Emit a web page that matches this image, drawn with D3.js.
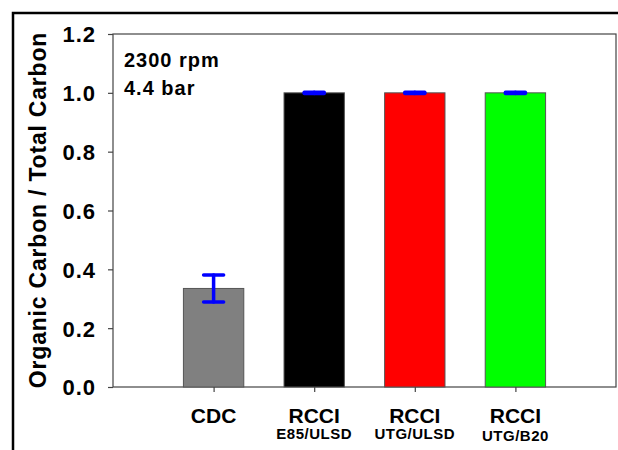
<!DOCTYPE html>
<html>
<head>
<meta charset="utf-8">
<script src="https://cdn.jsdelivr.net/npm/d3@7"></script>
<style>
  body { margin: 0; background: #fff; }
  svg { display: block; font-family: "Liberation Sans", Arial, sans-serif; font-weight: bold; }
</style>
</head>
<body>
<svg width="618" height="450"></svg>
<script>
// chart data
var categories = ["CDC", "RCCI", "RCCI", "RCCI"]
var subLabels = ["", "E85/ULSD", "UTG/ULSD", "UTG/B20"]
var values = [0.335, 1.0, 1.0, 1.0]
var errors = [0.046, 0.002, 0.002, 0.002]
var colors = ["#808080", "#000000", "#ff0000", "#00ff00"]
var yTicks = [0.0, 0.2, 0.4, 0.6, 0.8, 1.0, 1.2]

window.onload = () => {
    var svg = d3.select('svg')

    // outer frame
    svg.append('rect')
        .attr('x', 13).attr('y', 13)
        .attr('width', 618).attr('height', 450)
        .attr('fill', 'none')
        .attr('stroke', '#000')
        .attr('stroke-width', 2.5)

    var margin = { left: 113, top: 34, right: 2, bottom: 63 }
    var width = 618 - margin.left - margin.right,
        height = 450 - margin.top - margin.bottom

    var g = svg.append('g')
        .attr('transform', 'translate(' + margin.left + ',' + margin.top + ')')

    var xScale = d3.scaleLinear().domain([0, categories.length + 1]).range([0, width])
    var yScale = d3.scaleLinear().domain([0, 1.2]).range([height, 0])
    var barW = xScale(0.6) - xScale(0)

    // plot frame
    g.append('rect')
        .attr('width', width).attr('height', height)
        .attr('fill', 'none')
        .attr('stroke', '#444')
        .attr('stroke-width', 1.2)

    // bars
    g.selectAll('.bar')
        .data(values)
        .join('rect')
        .attr('class', 'bar')
        .attr('x', (d, i) => xScale(i + 1) - barW / 2)
        .attr('y', d => yScale(d))
        .attr('width', barW)
        .attr('height', d => yScale(0) - yScale(d))
        .attr('fill', (d, i) => colors[i])
        .attr('stroke', '#555')
        .attr('stroke-width', 1)

    // error bars
    var capW = 20
    var eb = g.selectAll('.err')
        .data(values)
        .join('g')
        .attr('class', 'err')
        .attr('stroke', '#0000ff')
        .attr('stroke-width', 3.5)
        .attr('stroke-linecap', 'round')
    eb.append('line')
        .attr('x1', (d, i) => xScale(i + 1)).attr('x2', (d, i) => xScale(i + 1))
        .attr('y1', (d, i) => yScale(d + errors[i])).attr('y2', (d, i) => yScale(d - errors[i]))
    eb.append('line')
        .attr('x1', (d, i) => xScale(i + 1) - capW / 2).attr('x2', (d, i) => xScale(i + 1) + capW / 2)
        .attr('y1', (d, i) => yScale(d + errors[i])).attr('y2', (d, i) => yScale(d + errors[i]))
    eb.append('line')
        .attr('x1', (d, i) => xScale(i + 1) - capW / 2).attr('x2', (d, i) => xScale(i + 1) + capW / 2)
        .attr('y1', (d, i) => yScale(d - errors[i])).attr('y2', (d, i) => yScale(d - errors[i]))

    // y axis
    var yAxis = d3.axisLeft(yScale)
        .tickValues(yTicks)
        .tickFormat(d3.format('.1f'))
        .tickSize(5)
        .tickPadding(12)
    var ya = g.append('g').call(yAxis)
    ya.select('.domain').remove()
    ya.selectAll('line').attr('stroke', '#444').attr('stroke-width', 1.2)
    ya.selectAll('text')
        .attr('font-size', 22)
        .attr('letter-spacing', 1)
        .attr('font-family', '"Liberation Sans", Arial, sans-serif')
        .attr('font-weight', 'bold')
        .attr('fill', '#000')
        .attr('dy', '0.36em')

    // x axis
    var xAxis = d3.axisBottom(xScale)
        .tickValues(categories.map((c, i) => i + 1))
        .tickFormat('')
        .tickSize(5)
    var xa = g.append('g')
        .attr('transform', 'translate(0,' + height + ')')
        .call(xAxis)
    xa.select('.domain').remove()
    xa.selectAll('line').attr('stroke', '#444').attr('stroke-width', 1.2)

    g.selectAll('.cat')
        .data(categories)
        .join('text')
        .attr('class', 'cat')
        .attr('x', (d, i) => xScale(i + 1))
        .attr('y', height + 36)
        .attr('text-anchor', 'middle')
        .attr('font-size', 21)
        .text(d => d)

    g.selectAll('.sub')
        .data(subLabels)
        .join('text')
        .attr('class', 'sub')
        .attr('x', (d, i) => xScale(i + 1))
        .attr('y', (d, i) => height + (i == 3 ? 54 : 52))
        .attr('text-anchor', 'middle')
        .attr('font-size', 15)
        .attr('letter-spacing', 0.5)
        .text(d => d)

    // y axis title
    svg.append('text')
        .attr('transform', 'translate(46,210) rotate(-90)')
        .attr('text-anchor', 'middle')
        .attr('font-size', 23)
        .attr('letter-spacing', 0.8)
        .text('Organic Carbon / Total Carbon')

    // annotation
    g.append('text').attr('x', 11).attr('y', 33).attr('font-size', 20).attr('letter-spacing', 1).text('2300 rpm')
    g.append('text').attr('x', 11).attr('y', 61).attr('font-size', 20).attr('letter-spacing', 1).text('4.4 bar')
}
</script>
</body>
</html>
